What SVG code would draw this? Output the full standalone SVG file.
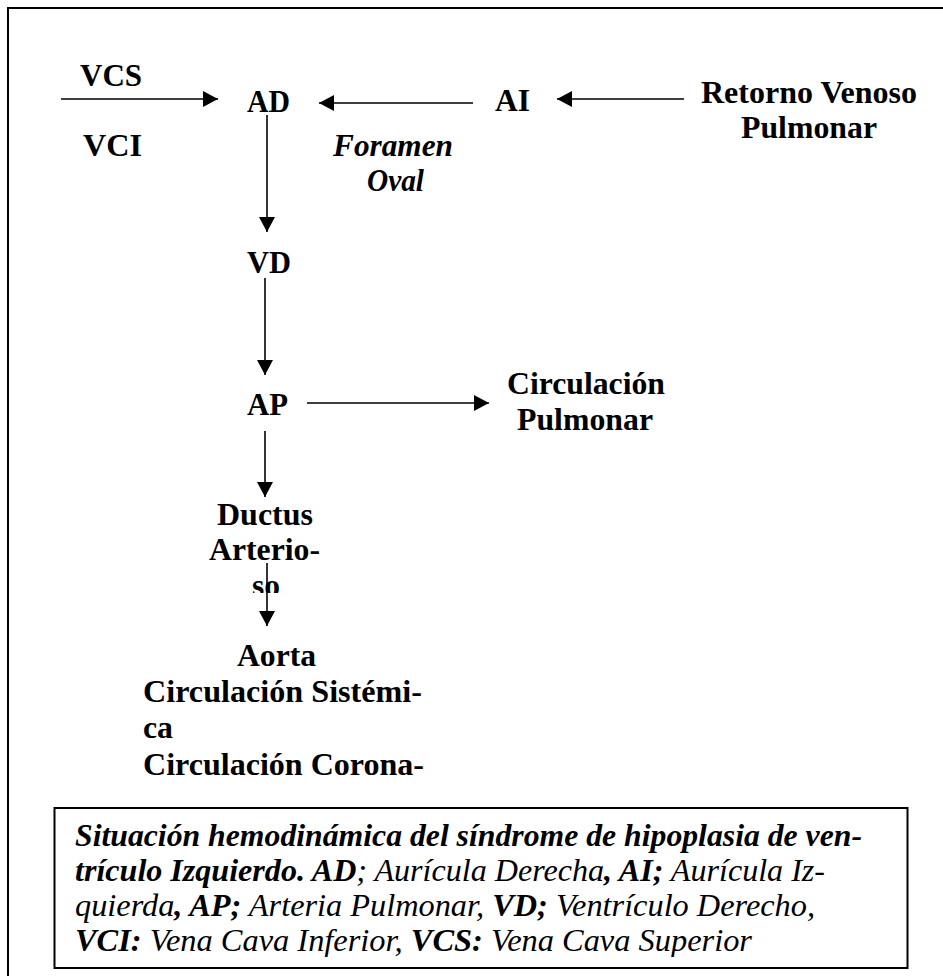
<svg xmlns="http://www.w3.org/2000/svg" width="943" height="976" viewBox="0 0 943 976">
<style>
.lb{font-family:"Liberation Serif","LiberationSerif","Tinos","Times","Noto Serif","DejaVu Serif","FreeSerif","Georgia",serif;font-weight:bold;font-size:31px;fill:#000}
.it{font-family:"Liberation Serif","LiberationSerif","Tinos","Times","Noto Serif","DejaVu Serif","FreeSerif","Georgia",serif;font-style:italic;font-size:31px;fill:#000}
.b{font-weight:bold}
.ln{stroke:#000;stroke-width:1.6;fill:none}
</style>
<defs>
<marker id="ah" viewBox="0 0 15 16" refX="15" refY="8" markerWidth="15" markerHeight="16" markerUnits="userSpaceOnUse" orient="auto">
<path d="M0,0 L15,8 L0,16 Z" fill="#000"/>
</marker>
<clipPath id="clipSo"><rect x="0" y="0" width="943" height="593"/></clipPath>
<clipPath id="clipCor"><rect x="0" y="0" width="943" height="776"/></clipPath>
<clipPath id="clipCap"><rect x="0" y="0" width="943" height="957"/></clipPath>
</defs>
<rect x="8" y="8" width="1000" height="1000" fill="none" stroke="#000" stroke-width="2"/>
<g id="connectors">
<line class="ln" x1="61" y1="99" x2="218" y2="99" marker-end="url(#ah)"/>
<line class="ln" x1="473" y1="103" x2="319" y2="103" marker-end="url(#ah)"/>
<line class="ln" x1="684" y1="99" x2="557" y2="99" marker-end="url(#ah)"/>
<line class="ln" x1="267" y1="115" x2="267" y2="232" marker-end="url(#ah)"/>
<line class="ln" x1="265" y1="278" x2="265" y2="375" marker-end="url(#ah)"/>
<line class="ln" x1="307" y1="403" x2="489" y2="403" marker-end="url(#ah)"/>
<line class="ln" x1="265" y1="431" x2="265" y2="497" marker-end="url(#ah)"/>
<line class="ln" x1="267" y1="563" x2="267" y2="626" marker-end="url(#ah)"/>
</g>
<g id="vcs"><text class="lb" x="80" y="86" textLength="62" lengthAdjust="spacingAndGlyphs">VCS</text></g>
<g id="vci"><text class="lb" x="83" y="156" textLength="59" lengthAdjust="spacingAndGlyphs">VCI</text></g>
<g id="ad"><text class="lb" x="247" y="112" textLength="43" lengthAdjust="spacingAndGlyphs">AD</text></g>
<g id="ai"><text class="lb" x="495" y="111" textLength="35" lengthAdjust="spacingAndGlyphs">AI</text></g>
<g id="retorno"><text class="lb" x="701" y="103" textLength="216" lengthAdjust="spacingAndGlyphs">Retorno Venoso</text><text class="lb" x="741" y="138" textLength="136" lengthAdjust="spacingAndGlyphs">Pulmonar</text></g>
<g id="foramen"><text class="it b" x="333" y="156" textLength="120" lengthAdjust="spacingAndGlyphs">Foramen</text><text class="it b" x="367" y="191" textLength="57" lengthAdjust="spacingAndGlyphs">Oval</text></g>
<g id="vd"><text class="lb" x="247" y="273" textLength="44" lengthAdjust="spacingAndGlyphs">VD</text></g>
<g id="ap"><text class="lb" x="247" y="415" textLength="41" lengthAdjust="spacingAndGlyphs">AP</text></g>
<g id="circpulm"><text class="lb" x="507" y="394" textLength="158" lengthAdjust="spacingAndGlyphs">Circulación</text><text class="lb" x="517" y="430" textLength="136" lengthAdjust="spacingAndGlyphs">Pulmonar</text></g>
<g id="ductus"><text class="lb" x="217" y="525" textLength="96" lengthAdjust="spacingAndGlyphs">Ductus</text><text class="lb" x="209" y="560" textLength="111" lengthAdjust="spacingAndGlyphs">Arterio-</text><text class="lb" x="252" y="596" textLength="28" lengthAdjust="spacingAndGlyphs" clip-path="url(#clipSo)">so</text></g>
<g id="aorta"><text class="lb" x="237" y="666" textLength="79" lengthAdjust="spacingAndGlyphs">Aorta</text><text class="lb" x="143" y="702" textLength="279" lengthAdjust="spacingAndGlyphs">Circulación Sistémi-</text><text class="lb" x="143" y="738" textLength="30" lengthAdjust="spacingAndGlyphs">ca</text><text class="lb" x="143" y="775" textLength="281" lengthAdjust="spacingAndGlyphs" clip-path="url(#clipCor)">Circulación Corona-</text></g>
<g id="caption">
<rect x="54.5" y="808" width="853" height="160" fill="none" stroke="#000" stroke-width="2"/>
<text class="it b" x="75" y="846" textLength="787" lengthAdjust="spacingAndGlyphs">Situación hemodinámica del síndrome de hipoplasia de ven-</text>
<text class="it" x="75" y="881" textLength="750" lengthAdjust="spacingAndGlyphs"><tspan class="b">trículo Izquierdo. AD</tspan>; Aurícula Derecha<tspan class="b">, AI;</tspan> Aurícula Iz-</text>
<text class="it" x="75" y="916" textLength="740" lengthAdjust="spacingAndGlyphs">quierda<tspan class="b">, AP;</tspan> Arteria Pulmonar, <tspan class="b">VD;</tspan> Ventrículo Derecho,</text>
<text class="it" x="75" y="951" textLength="677" lengthAdjust="spacingAndGlyphs" clip-path="url(#clipCap)"><tspan class="b">VCI:</tspan> Vena Cava Inferior, <tspan class="b">VCS:</tspan> Vena Cava Superior</text>
</g>
</svg>
